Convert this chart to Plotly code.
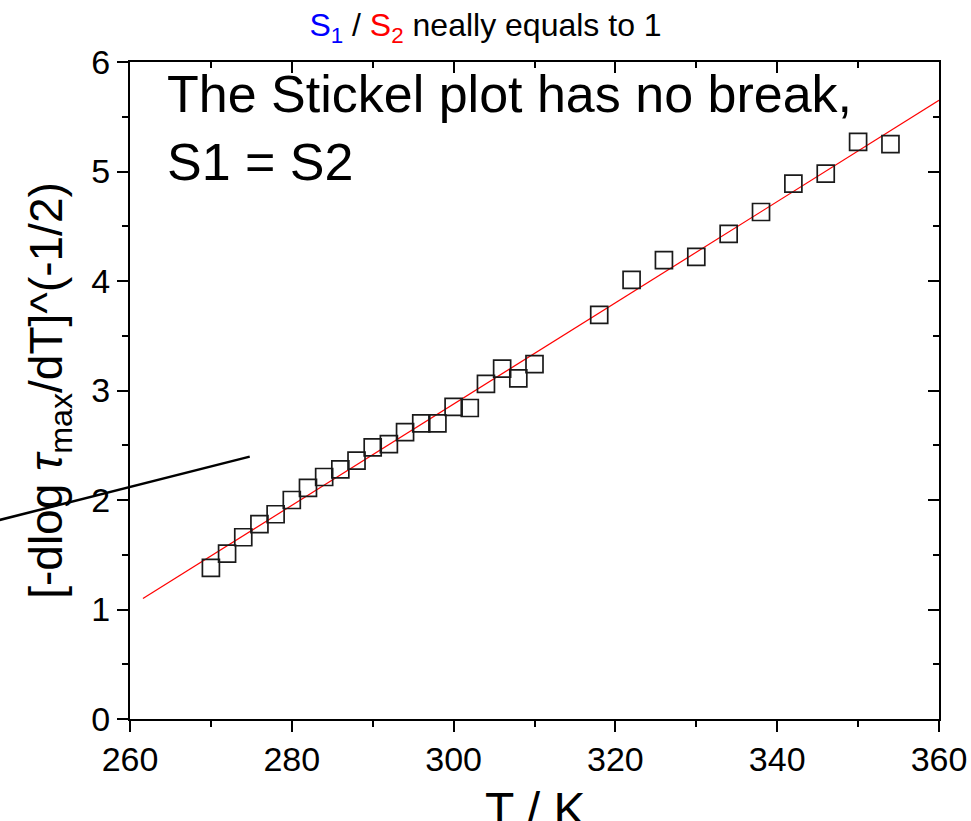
import plotly.graph_objects as go

# Stickel plot data: temperature (K) vs [-dlog(tau_max)/dT]^(-1/2)
temperature = [270, 272, 274, 276, 278, 280, 282, 284, 286, 288, 290, 292, 294, 296,
               298, 300, 302, 304, 306, 308, 310, 318, 322, 326, 330, 334, 338, 342,
               346, 350, 354]
stickel = [1.38, 1.51, 1.66, 1.78, 1.87, 2.00, 2.11, 2.21, 2.28, 2.36, 2.48, 2.51,
           2.62, 2.70, 2.70, 2.85, 2.84, 3.06, 3.20, 3.11, 3.24, 3.69, 4.01, 4.19,
           4.22, 4.43, 4.63, 4.89, 4.98, 5.27, 5.25]

# Linear fit through all points (single straight line, no break)
fit_t = [261.6, 360.0]
fit_y = [1.10, 5.65]

# Short guide segment crossing the left axis
guide_t = [240.0, 274.8]
guide_y = [1.745, 2.396]

x_range = [260, 360]
y_range = [0, 6]

font_family = "Arial, Liberation Sans, sans-serif"

fig = go.Figure()

fig.add_trace(go.Scatter(
    x=fit_t, y=fit_y, mode="lines",
    line=dict(color="#ff0000", width=1.2),
    showlegend=False, hoverinfo="skip",
))

fig.add_trace(go.Scatter(
    x=temperature, y=stickel, mode="markers",
    marker=dict(symbol="square-open", size=17,
                color="#1a1a1a", line=dict(color="#1a1a1a", width=1.7)),
    showlegend=False,
))

# invisible trace so the mirrored (top/right) axes are drawn
fig.add_trace(go.Scatter(
    x=[x_range[0]], y=[y_range[0]], xaxis="x2", yaxis="y2",
    mode="markers", marker=dict(opacity=0), showlegend=False, hoverinfo="skip",
))

def to_paper(v, rng):
    return (v - rng[0]) / (rng[1] - rng[0])

fig.add_shape(
    type="line", xref="paper", yref="paper",
    x0=to_paper(guide_t[0], x_range), y0=to_paper(guide_y[0], y_range),
    x1=to_paper(guide_t[1], x_range), y1=to_paper(guide_y[1], y_range),
    line=dict(color="black", width=2.5),
)

axis_common = dict(
    showgrid=False, zeroline=False, showline=True, automargin=False,
    linecolor="black", linewidth=2,
    tickcolor="black", tickwidth=2, ticklen=11,
)

fig.update_layout(
    width=971, height=821,
    margin=dict(l=130, r=32, t=62, b=102),
    paper_bgcolor="white", plot_bgcolor="white",
    font=dict(family=font_family, color="black"),
    title=dict(
        text="<span style='color:#0000ff'>S<sub>1</sub></span> / "
             "<span style='color:#ff0000'>S<sub>2</sub></span> neally equals to 1",
        font=dict(size=32, family=font_family, color="black"),
        x=0.5, xanchor="center", xref="container",
        y=1 - 14 / 821, yref="container", yanchor="top",
    ),
    xaxis=dict(
        range=x_range, dtick=20, tick0=260, ticks="outside",
        tickfont=dict(size=34), ticklabelstandoff=-2,
        minor=dict(dtick=10, tick0=260, ticks="outside", ticklen=6,
                   tickwidth=2, tickcolor="black"),
        **axis_common,
    ),
    yaxis=dict(
        range=y_range, dtick=1, ticks="outside",
        tickfont=dict(size=34),
        minor=dict(dtick=0.5, ticks="outside", ticklen=6,
                   tickwidth=2, tickcolor="black"),
        title=dict(text="[-dlog <i>τ</i><sub>max</sub>/dT]^(-1/2)",
                   font=dict(size=46), standoff=14),
        **axis_common,
    ),
    xaxis2=dict(
        range=x_range, dtick=20, tick0=260, ticks="inside", side="top",
        overlaying="x", showticklabels=False,
        minor=dict(dtick=10, tick0=260, ticks="inside", ticklen=6,
                   tickwidth=2, tickcolor="black"),
        **axis_common,
    ),
    yaxis2=dict(
        range=y_range, dtick=1, ticks="inside", side="right",
        overlaying="y", showticklabels=False,
        minor=dict(dtick=0.5, ticks="inside", ticklen=6,
                   tickwidth=2, tickcolor="black"),
        **axis_common,
    ),
    annotations=[
        dict(
            text="The Stickel plot has no break,<br>S1 = S2",
            xref="paper", yref="paper",
            x=to_paper(264.3, x_range), y=to_paper(5.99, y_range),
            xanchor="left", yanchor="top", align="left",
            showarrow=False, font=dict(size=52, family=font_family, color="black"),
        ),
        # x-axis title, sitting low against the bottom edge
        dict(
            text="T / K",
            xref="paper", yref="paper", x=0.5, y=-0.138,
            xanchor="center", yanchor="middle",
            showarrow=False, font=dict(size=48, family=font_family, color="black"),
        ),
    ],
)

fig.write_html("out.html")
